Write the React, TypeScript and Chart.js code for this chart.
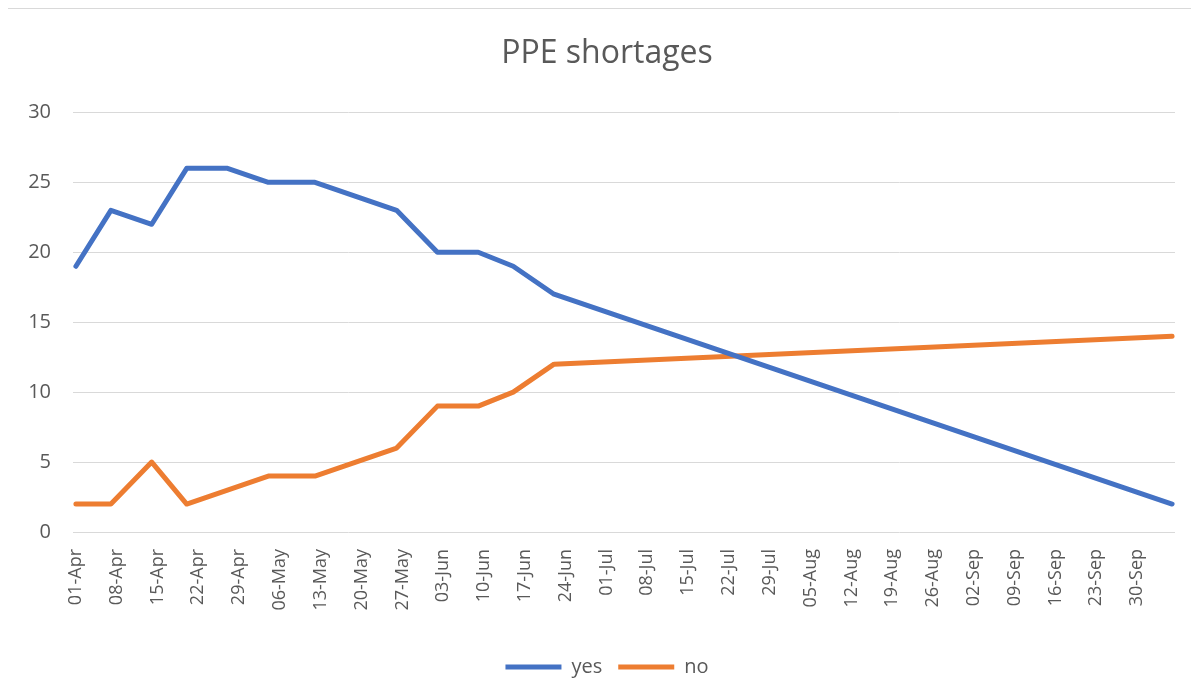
import React, { useEffect, useRef } from "react";
import { Chart, registerables } from "chart.js";

Chart.register(...registerables);

// Report dates for each observation
const reportDates = [
  "2020-04-01", "2020-04-07", "2020-04-14", "2020-04-20", "2020-04-27",
  "2020-05-04", "2020-05-12", "2020-05-19", "2020-05-26", "2020-06-02",
  "2020-06-09", "2020-06-15", "2020-06-22", "2020-10-06",
];
const yesValues = [19, 23, 22, 26, 26, 25, 25, 24, 23, 20, 20, 19, 17, 2];
const noValues = [2, 2, 5, 2, 3, 4, 4, 5, 6, 9, 9, 10, 12, 14];

// Weekly date-axis tick labels, starting at 01-Apr
const xTickLabels = [
  "01-Apr", "08-Apr", "15-Apr", "22-Apr", "29-Apr", "06-May", "13-May",
  "20-May", "27-May", "03-Jun", "10-Jun", "17-Jun", "24-Jun", "01-Jul",
  "08-Jul", "15-Jul", "22-Jul", "29-Jul", "05-Aug", "12-Aug", "19-Aug",
  "26-Aug", "02-Sep", "09-Sep", "16-Sep", "23-Sep", "30-Sep",
];
const yTickValues = [0, 5, 10, 15, 20, 25, 30];

const START = Date.UTC(2020, 3, 1);
const dayOf = (s: string) => (Date.parse(s + "T00:00:00Z") - START) / 86400000;

const FONT = "'Open Sans', 'Noto Sans', sans-serif";
const TEXT = "#595959";
const GRID = "#d9d9d9";

export default function App() {
  const ref = useRef<HTMLCanvasElement | null>(null);

  useEffect(() => {
    document.body.style.overflow = "hidden";
    const canvas = ref.current;
    if (!canvas) return;
    const days = reportDates.map(dayOf);
    const lastDay = days[days.length - 1];
    const tickDays = xTickLabels.map((_, i) => i * 7);

    const chart = new Chart(canvas, {
      type: "line",
      data: {
        datasets: [
          {
            label: "yes",
            data: days.map((d, i) => ({ x: d, y: yesValues[i] })),
            borderColor: "#4472C4",
            backgroundColor: "#4472C4",
            borderWidth: 5,
            borderCapStyle: "round",
            borderJoinStyle: "round",
            pointRadius: 0,
            tension: 0,
          },
          {
            label: "no",
            data: days.map((d, i) => ({ x: d, y: noValues[i] })),
            borderColor: "#ED7D31",
            backgroundColor: "#ED7D31",
            borderWidth: 5,
            borderCapStyle: "round",
            borderJoinStyle: "round",
            pointRadius: 0,
            tension: 0,
          },
        ],
      },
      options: {
        responsive: false,
        animation: false,
        layout: { padding: { left: 0, right: 0, top: 0, bottom: 22 } },
        plugins: {
          title: {
            display: true,
            text: "PPE shortages",
            color: TEXT,
            font: { family: FONT, size: 32, weight: "normal" },
            padding: { top: 26, bottom: 39 },
          },
          legend: {
            position: "bottom",
            labels: {
              usePointStyle: true,
              pointStyle: "line",
              pointStyleWidth: 56,
              color: TEXT,
              font: { family: FONT, size: 20 },
              padding: 16,
            },
          },
          tooltip: { enabled: false },
        },
        scales: {
          x: {
            type: "linear",
            min: -0.5,
            max: lastDay + 0.5,
            afterBuildTicks: (s: any) => {
              s.ticks = tickDays.map((v) => ({ value: v }));
            },
            afterFit: (s: any) => {
              s.height = 109;
            },
            grid: { display: false, drawTicks: false },
            border: { display: false },
            ticks: {
              autoSkip: false,
              minRotation: 90,
              maxRotation: 90,
              padding: 17,
              color: TEXT,
              font: { family: FONT, size: 18 },
              callback: (v: any) => xTickLabels[Math.round(Number(v) / 7)] ?? "",
            },
          },
          y: {
            min: 0,
            max: 30,
            afterBuildTicks: (s: any) => {
              s.ticks = yTickValues.map((v) => ({ value: v }));
            },
            afterFit: (s: any) => {
              s.width = 65;
            },
            grid: { color: GRID, lineWidth: 1, drawTicks: false },
            border: { display: false },
            ticks: {
              padding: 22,
              color: TEXT,
              font: { family: FONT, size: 20 },
            },
          },
          yRight: {
            position: "right",
            min: 0,
            max: 30,
            afterFit: (s: any) => {
              s.width = 31;
            },
            grid: { display: false, drawTicks: false },
            border: { display: false },
            ticks: { display: false },
          },
        },
      },
    });
    return () => chart.destroy();
  }, []);

  return (
    <div style={{ marginLeft: -1, width: 1192, height: 684, overflow: "hidden" }}>
      <div
        style={{
          width: 1200,
          height: 702,
          border: "1px solid #d9d9d9",
          boxSizing: "border-box",
        }}
      >
        <canvas ref={ref} width={1198} height={700} style={{ display: "block" }} />
      </div>
    </div>
  );
}
